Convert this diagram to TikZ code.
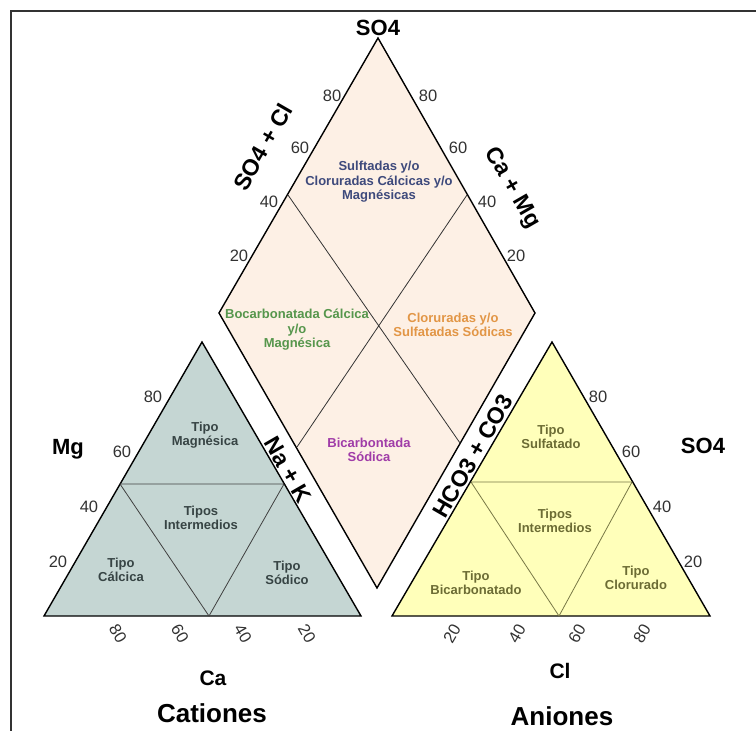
\documentclass[tikz,border=0pt]{standalone}
\usepackage{fontspec}
\setmainfont{Liberation Sans}
\definecolor{kationfill}{RGB}{197,214,211}
\definecolor{anionfill}{RGB}{255,255,186}
\definecolor{rautefill}{RGB}{253,240,229}
\definecolor{kationtext}{RGB}{55,68,68}
\definecolor{aniontext}{RGB}{108,108,52}
\definecolor{anionline}{RGB}{120,120,70}
\definecolor{pctgray}{RGB}{50,50,50}
\definecolor{navy}{RGB}{62,74,124}
\definecolor{grasgruen}{RGB}{86,150,76}
\definecolor{orangeton}{RGB}{226,150,70}
\definecolor{violett}{RGB}{160,60,168}

\begin{document}
\begin{tikzpicture}[x=1pt, y=-1pt,
  region/.style={font=\bfseries\fontsize{13}{14.5}\selectfont, align=center, inner sep=1pt},
  pct/.style={font=\fontsize{16.5}{18}\selectfont, text=pctgray, inner sep=0pt},
  achse/.style={font=\bfseries\fontsize{23}{25}\selectfont, inner sep=0pt},
  rand/.style={draw=black, line width=1.4pt},
  teil/.style={line width=0.8pt}]

\useasboundingbox (0,0) rectangle (756,731);

% Rahmen (nur oben und links sichtbar)
\draw[line width=2pt, black!80] (11,731) -- (11,11) -- (756,11);

% Eckpunkte der drei Felder
\coordinate (kL) at (44,616);
\coordinate (kR) at (361,616);
\coordinate (kT) at (202,342);
\coordinate (aL) at (392,616);
\coordinate (aR) at (710,616);
\coordinate (aT) at (552,342);
\coordinate (rT) at (378,38);
\coordinate (rL) at (219,313);
\coordinate (rR) at (535,313);
\coordinate (rB) at (377,588);

% Teilungspunkte
\coordinate (kM1) at (120,484);
\coordinate (kM2) at (284,484);
\coordinate (kU)  at (209,616);
\coordinate (aM1) at (471,482);
\coordinate (aM2) at (632,482);
\coordinate (aU)  at (559,616);
\coordinate (rO1) at (288,195);
\coordinate (rO2) at (467,195);
\coordinate (rU1) at (297,447);
\coordinate (rU2) at (460,443);

% Flaechen
\draw[rand, fill=kationfill] (kL) -- (kR) -- (kT) -- cycle;
\draw[rand, fill=anionfill]  (aL) -- (aR) -- (aT) -- cycle;
\draw[rand, fill=rautefill]  (rT) -- (rR) -- (rB) -- (rL) -- cycle;

% Innere Linien
\draw[teil, black!75] (kM1) -- (kM2) (kM1) -- (kU) -- (kM2);
\draw[teil, anionline] (aM1) -- (aM2) (aM1) -- (aU) -- (aM2);
\draw[teil, black!80] (rO1) -- (rU2) (rO2) -- (rU1);

% Prozentskalen Raute
\node[pct] (r80l) at (332,96)  {80};
\node[pct] (r60l) at (300,148) {60};
\node[pct] (r40l) at (269,202) {40};
\node[pct] (r20l) at (239,256) {20};
\node[pct] (r80r) at (428,96)  {80};
\node[pct] (r60r) at (458,148) {60};
\node[pct] (r40r) at (487,202) {40};
\node[pct] (r20r) at (516,256) {20};

% Prozentskalen Kationen
\node[pct] (k80) at (153,397) {80};
\node[pct] (k60) at (122,452) {60};
\node[pct] (k40) at (89,507)  {40};
\node[pct] (k20) at (58,562)  {20};
\node[pct, rotate=-60] (kb80) at (118,634) {80};
\node[pct, rotate=-60] (kb60) at (180,634) {60};
\node[pct, rotate=-60] (kb40) at (243,634) {40};
\node[pct, rotate=-60] (kb20) at (307,634) {20};

% Prozentskalen Anionen
\node[pct] (a80) at (598,397) {80};
\node[pct] (a60) at (631,452) {60};
\node[pct] (a40) at (662,507) {40};
\node[pct] (a20) at (693,562) {20};
\node[pct, rotate=60] (ab20) at (452,634) {20};
\node[pct, rotate=60] (ab40) at (517,634) {40};
\node[pct, rotate=60] (ab60) at (577,634) {60};
\node[pct, rotate=60] (ab80) at (642,634) {80};

% Achsenbeschriftungen
\node[achse, font=\bfseries\fontsize{22}{24}\selectfont] (so4top) at (378,28) {SO4};
\node[achse, rotate=60]  (so4cl) at (263,147) {SO4 + Cl};
\node[achse, rotate=-60] (camg)  at (512,188) {Ca + Mg};
\node[achse, rotate=-60] (nak)   at (288,470) {Na + K};
\node[achse, rotate=60]  (hco3)  at (473,456) {HCO3 + CO3};
\node[achse, font=\bfseries\fontsize{22}{24}\selectfont] (mg)  at (68,449)  {Mg};
\node[achse, font=\bfseries\fontsize{22}{24}\selectfont] (so4) at (703,446) {SO4};
\node[achse, font=\bfseries\fontsize{21}{23}\selectfont] (ca) at (213,678) {Ca};
\node[achse, font=\bfseries\fontsize{21}{23}\selectfont] (cl) at (560,671) {Cl};
\node[achse, font=\bfseries\fontsize{26}{28}\selectfont] (cat) at (212,713) {Cationes};
\node[achse, font=\bfseries\fontsize{26}{28}\selectfont] (ani) at (562,716) {Aniones};

% Wassertypen Kationen
\node[region, kationtext] (tmg)  at (205,435) {Tipo\\Magnésica};
\node[region, kationtext] (tki)  at (201,518) {Tipos\\Intermedios};
\node[region, kationtext] (tca)  at (121,570) {Tipo\\Cálcica};
\node[region, kationtext] (tna)  at (287,573) {Tipo\\Sódico};

% Wassertypen Anionen
\node[region, aniontext] (tsu)  at (551,437) {Tipo\\Sulfatado};
\node[region, aniontext] (tai)  at (555,521) {Tipos\\Intermedios};
\node[region, aniontext] (tbi)  at (476,583) {Tipo\\Bicarbonatado};
\node[region, aniontext] (tcl)  at (636,578) {Tipo\\Clorurado};

% Wassertypen Raute
\node[region, navy]      (rsul) at (379,182) {Sulftadas y/o\\Cloruradas Cálcicas y/o\\Magnésicas};
\node[region, grasgruen] (rbic) at (297,330) {Bocarbonatada Cálcica\\y/o\\Magnésica};
\node[region, orangeton] (rclo) at (453,325) {Cloruradas y/o\\Sulfatadas Sódicas};
\node[region, violett]   (rnas) at (369,450) {Bicarbontada\\Sódica};

\end{tikzpicture}
\end{document}
